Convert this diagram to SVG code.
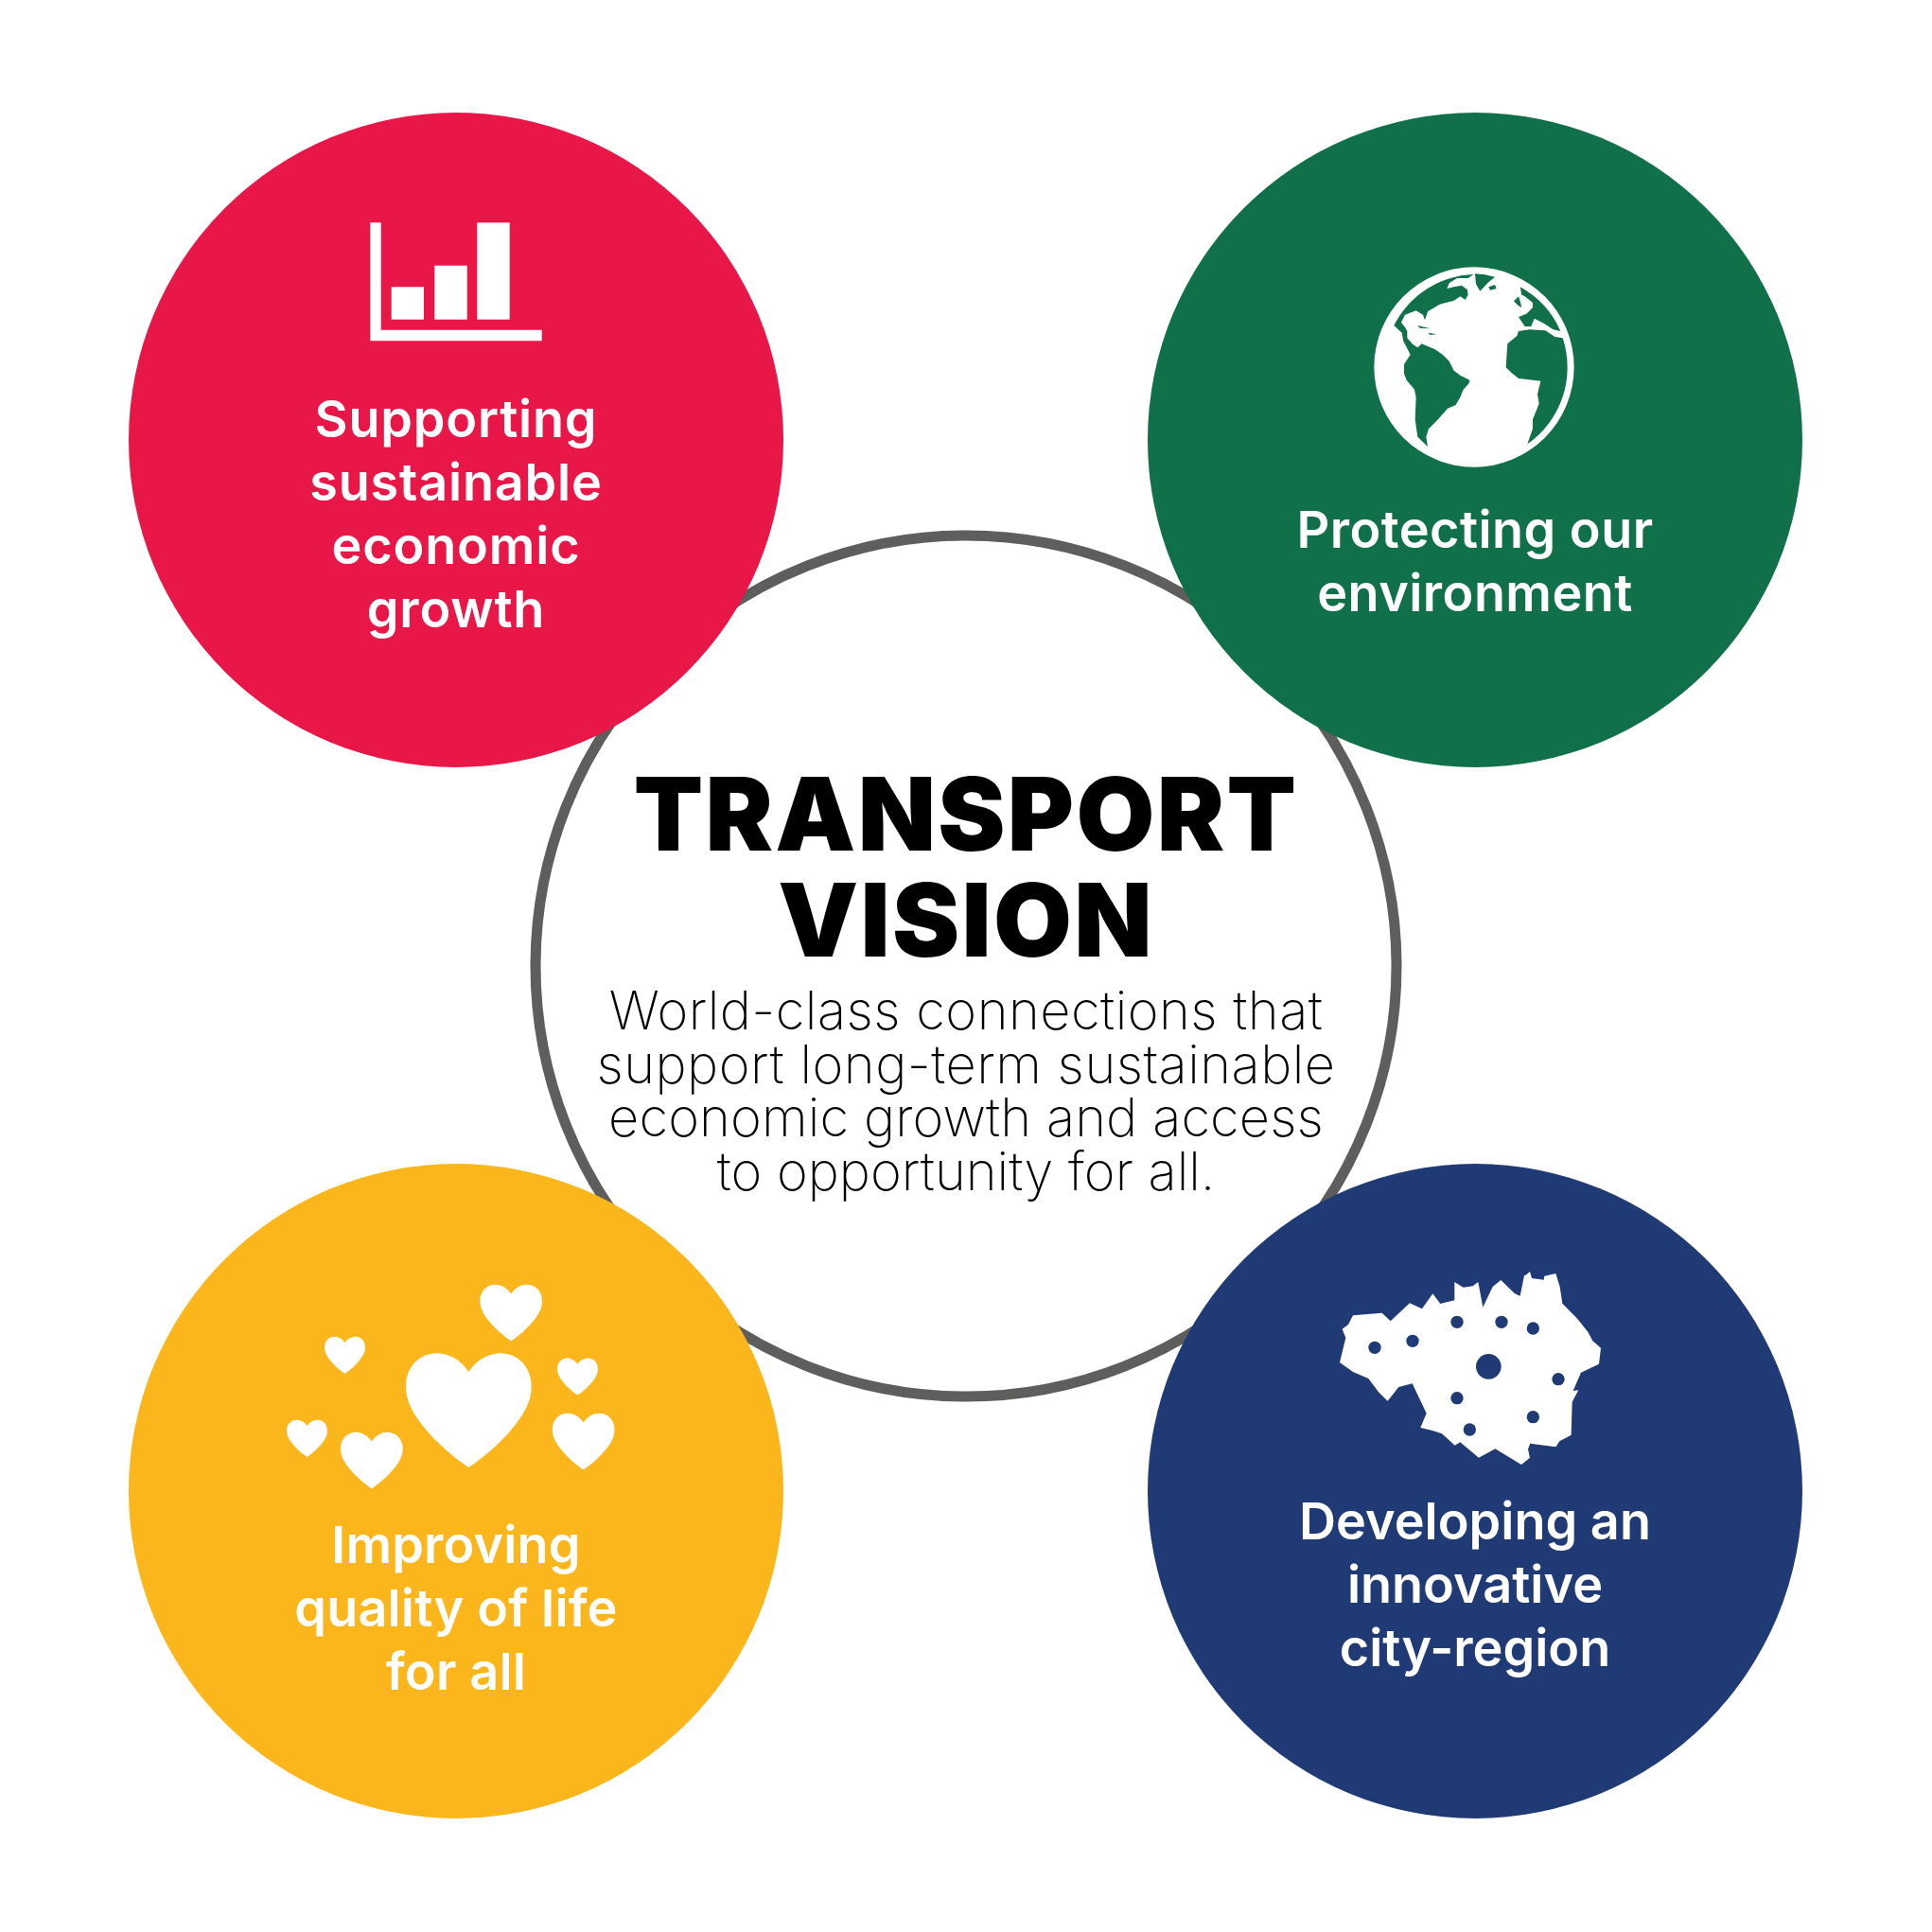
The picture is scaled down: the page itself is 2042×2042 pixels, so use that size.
<svg xmlns="http://www.w3.org/2000/svg" width="2042" height="2042" viewBox="0 0 2042 2042">
<style>
.w{fill:#fff}
.lbl{font-family:Inter,"Liberation Sans",sans-serif;font-weight:600;font-size:54px;fill:#fff;text-anchor:middle}
#growth .lbl{letter-spacing:.8px}
#environment .lbl{letter-spacing:.45px}
#quality .lbl{letter-spacing:.15px}
.title{font-family:Inter,"Liberation Sans",sans-serif;font-weight:900;font-size:107px;letter-spacing:2.3px;fill:#000;text-anchor:middle}
.body{font-family:Inter,"Liberation Sans",sans-serif;font-weight:200;font-size:56px;fill:#000;text-anchor:middle}
</style>
<defs>
<path id="heart" d="M0 -122C-26 -162-66 -181-101 -181C-156 -181-199 -137-199 -77C-199 -32-181 3-146 48C-106 98-56 143 0 181C56 143 106 98 146 48C181 3 199 -32 199 -77C199 -137 156 -181 101 -181C66 -181 26 -162 0 -122Z"/>
</defs>
<rect width="2042" height="2042" fill="#fff"/>
<g id="centre">
<circle cx="1021" cy="1021" r="455" fill="#fff" stroke="#5e5e5c" stroke-width="11"/>
<text class="title" x="1021" y="899">TRANSPORT</text>
<text class="title" x="1021" y="1011">VISION</text>
<text class="body" x="1021" y="1088" letter-spacing=".48">World-class connections that</text>
<text class="body" x="1021" y="1145" letter-spacing=".5">support long-term sustainable</text>
<text class="body" x="1021" y="1201" letter-spacing=".1">economic growth and access</text>
<text class="body" x="1021" y="1258">to opportunity for all.</text>
</g>
<g id="growth">
<circle cx="482" cy="465" r="346" fill="#e91648"/>
<path class="w" d="M391.3 235.3H402.7V348.7H572.7V360.3H391.3Z"/>
<rect class="w" x="413.7" y="303.3" width="34.3" height="34.4"/>
<rect class="w" x="459.3" y="280.7" width="34.4" height="57"/>
<rect class="w" x="504.3" y="235.3" width="34.4" height="102.4"/>
<text class="lbl" x="482" y="462">Supporting</text>
<text class="lbl" x="482" y="529">sustainable</text>
<text class="lbl" x="482" y="596">economic</text>
<text class="lbl" x="482" y="663">growth</text>
</g>
<g id="environment">
<circle cx="1559" cy="465" r="346" fill="#0f7049"/>
<g transform="translate(1430 270) scale(.33333)">
<circle class="w" cx="384" cy="354" r="317"/>
<path fill="#0f7049" d="M130 222A294 294 0 0 1 382 60L365 72L330 72L305 88L298 105L320 100L345 95L362 108L365 125L356 140L340 130L320 143L275 155L237 178L228 205L222 188L200 175L165 188L153 212L165 228L172 240L172 262L190 282L205 292L218 280L260 298L285 315L305 335L320 365L340 380L370 395L368 405L350 425L340 450L325 475L300 485L270 520L240 550L232 575L237 606L205 575L197 520L200 450L195 425L170 395L162 375L162 345L182 315L172 295L160 272L155 245Z"/>
<path fill="#0f7049" d="M205 222L245 232L212 230ZM238 245L265 250L245 252Z"/>
<path fill="#0f7049" d="M387 58A294 294 0 0 1 450 68L430 85L403 113L390 90ZM430 100L450 93L455 105L435 110Z"/>
<path fill="#0f7049" d="M530 100A294 294 0 0 1 658 240L635 235L605 215L575 200L565 225L545 225L525 195L550 185L570 165L570 150L545 130L535 125ZM510 145L525 130L530 145L535 165L525 160Z"/>
<path fill="#0f7049" d="M525 240L560 235L610 238L640 258L665 262A296 296 0 0 1 553 598L570 550L570 520L590 470L585 440L595 398L570 395L525 390L500 370L485 355L490 280L520 255Z"/>
</g>
<text class="lbl" x="1559" y="579">Protecting our</text>
<text class="lbl" x="1559" y="646">environment</text>
</g>
<g id="quality">
<circle cx="482" cy="1576" r="346" fill="#fbb61b"/>
<g class="w" transform="translate(290 1340) scale(.33333)">
<use href="#heart" transform="translate(616 452)"/>
<use href="#heart" transform="translate(750.5 143) scale(.495)"/>
<use href="#heart" transform="translate(223.5 277) scale(.324)"/>
<use href="#heart" transform="translate(961.5 345) scale(.324)"/>
<use href="#heart" transform="translate(980 551) scale(.495)"/>
<use href="#heart" transform="translate(103.5 541) scale(.324)"/>
<use href="#heart" transform="translate(308.5 611) scale(.495)"/>
</g>
<text class="lbl" x="482" y="1652">Improving</text>
<text class="lbl" x="482" y="1719">quality of life</text>
<text class="lbl" x="482" y="1786">for all</text>
</g>
<g id="innovation">
<circle cx="1559" cy="1576" r="346" fill="#203a76"/>
<g transform="translate(1400 1330) scale(.33333)">
<path class="w" d="M48 330L67 252L56 224L75 210L90 181L182 173L209 199L270 142L309 160L343 112L367 144L412 133L412 75L440 92L470 88L487 75L502 155L533 90L559 69L603 112L620 119L633 55L640 52L651 42L657 63L695 68L697 56L733 48L746 90L754 143L800 190L835 233L850 262L876 284L870 335L813 362L788 420L805 418L785 455L782 560L745 580L733 598L652 587L645 605L651 632L624 654L541 604L489 632L430 583L413 593L372 556L342 546L304 537L323 491L278 397L235 408L200 452L171 424L139 381L90 360Z"/>
<g fill="#203a76">
<circle cx="159" cy="283" r="20"/><circle cx="279" cy="262" r="20"/><circle cx="420" cy="202" r="20"/><circle cx="561" cy="202" r="20"/><circle cx="661" cy="222" r="20"/><circle cx="741" cy="383" r="20"/><circle cx="661" cy="503" r="20"/><circle cx="460" cy="543" r="20"/><circle cx="420" cy="443" r="20"/><circle cx="520" cy="343" r="40"/>
</g>
</g>
<text class="lbl" x="1559" y="1627">Developing an</text>
<text class="lbl" x="1559" y="1694">innovative</text>
<text class="lbl" x="1559" y="1761">city-region</text>
</g>
</svg>
